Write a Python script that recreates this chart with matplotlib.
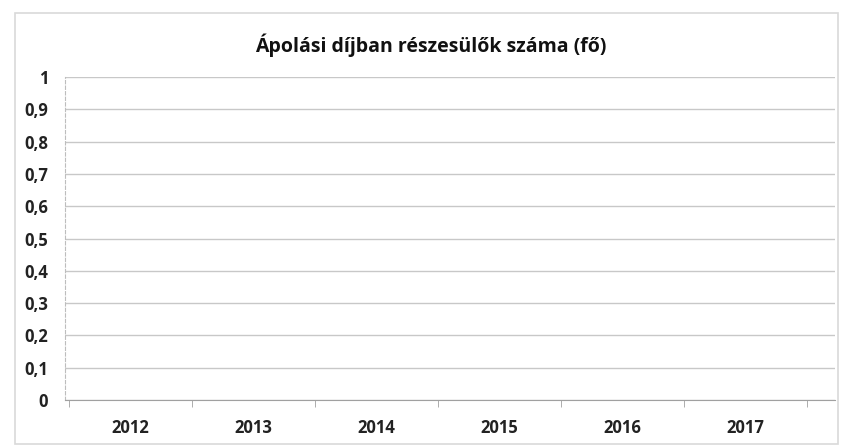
"""Empty Excel-style chart: Ápolási díjban részesülők száma (fő)."""

import numpy as np
import matplotlib

matplotlib.use("Agg")
import matplotlib.pyplot as plt
from matplotlib.patches import Rectangle
from matplotlib.ticker import FuncFormatter

years = ["2012", "2013", "2014", "2015", "2016", "2017"]
recipients = [np.nan, np.nan, np.nan, np.nan, np.nan, np.nan]
y_ticks = [0, 0.1, 0.2, 0.3, 0.4, 0.5, 0.6, 0.7, 0.8, 0.9, 1]

plt.rcParams["font.family"] = ["Open Sans", "DejaVu Sans"]

fig = plt.figure(figsize=(8.44, 4.46), dpi=100)
fig.patches.append(Rectangle((0.018, 0.005), 0.975, 0.965, transform=fig.transFigure,
                             fill=False, edgecolor="#d9d9d9", linewidth=1.2))
ax = fig.add_axes([65 / 844, 1 - 400 / 446, 770 / 844, 323 / 446])

x = np.arange(len(years))
ax.bar(x, recipients, color="#4f81bd", width=0.6)

ax.set_ylim(0, 1)
ax.set_xlim(-0.53, 5.73)
ax.set_yticks(y_ticks)
ax.yaxis.set_major_formatter(FuncFormatter(lambda v, _: f"{v:g}".replace(".", ",")))
ax.set_xticks(x)
ax.set_xticklabels(years)
ax.tick_params(axis="y", length=0, labelsize=12, pad=12)
ax.tick_params(axis="x", length=0, labelsize=12, pad=14)
for label in ax.get_xticklabels() + ax.get_yticklabels():
    label.set_fontweight("bold")
    label.set_color("#222222")

ax.grid(axis="y", color="#c8c8c8", linewidth=1)
ax.set_axisbelow(True)
for side in ("top", "right"):
    ax.spines[side].set_visible(False)
ax.spines["left"].set_color("#bdbdbd")
ax.spines["left"].set_linestyle((0, (3, 2)))
ax.spines["bottom"].set_color("#a0a0a0")

# separators between categories on the category axis
ax.set_xticks(np.arange(-0.5, 5.6, 1), minor=True)
ax.tick_params(axis="x", which="minor", length=5, color="#a0a0a0")

fig.suptitle("Ápolási díjban részesülők száma (fő)", x=0.51, y=0.925,
             fontsize=14, fontweight="bold", color="#111111")

fig.savefig("out.png", dpi=100)
